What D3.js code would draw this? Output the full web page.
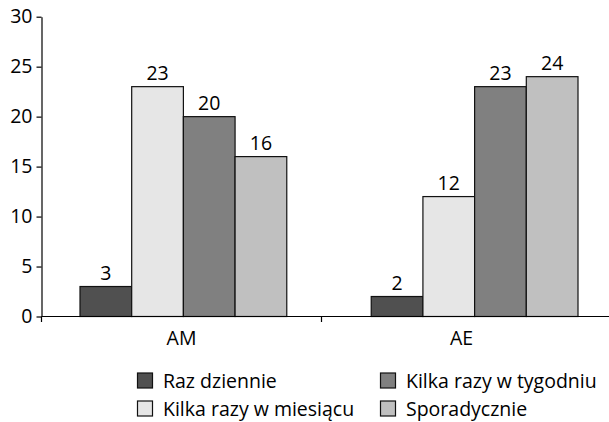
<!DOCTYPE html>
<html>
<head>
<meta charset="utf-8">
<script src="https://cdn.jsdelivr.net/npm/d3@7"></script>
<style>
  body { margin: 0; background: #fff; }
  svg { display: block; }
  text { font-family: "Open Sans", "Noto Sans", sans-serif; fill: #000; }
</style>
</head>
<body>
<svg id="chart" width="609" height="422"></svg>
<script>
const categories = ["AM", "AE"];
const seriesNames = ["Raz dziennie", "Kilka razy w miesiącu", "Kilka razy w tygodniu", "Sporadycznie"];
const seriesColors = ["#505050", "#e6e6e6", "#808080", "#c0c0c0"];
const valuesAM = [3, 23, 20, 16];
const valuesAE = [2, 12, 23, 24];
const yTicks = [0, 5, 10, 15, 20, 25, 30];
const legendOrder = ["Raz dziennie", "Kilka razy w tygodniu", "Kilka razy w miesiącu", "Sporadycznie"];

const data = categories.map((c, i) => ({
  cat: c,
  vals: (i === 0 ? valuesAM : valuesAE).map((v, j) => ({ s: seriesNames[j], v }))
}));

const svg = d3.select("#chart");
const fs = 19.5;

const y = d3.scaleLinear().domain([0, 30]).range([316.5, 16.7]);
const x0 = d3.scaleBand().domain(categories).range([41.5, 601.5]);
const xBar = d3.scaleBand().domain(categories).range([80, 578]).paddingInner(0.29).paddingOuter(0);
const x1 = d3.scaleBand().domain(seriesNames).range([0, xBar.bandwidth()]);
const color = d3.scaleOrdinal().domain(seriesNames).range(seriesColors);

// bars
const g = svg.append("g");
const groups = g.selectAll("g.grp").data(data).join("g")
  .attr("transform", d => `translate(${xBar(d.cat)},0)`);
groups.selectAll("rect").data(d => d.vals).join("rect")
  .attr("x", d => x1(d.s))
  .attr("y", d => y(d.v))
  .attr("width", x1.bandwidth())
  .attr("height", d => y(0) - y(d.v))
  .attr("fill", d => color(d.s))
  .attr("stroke", "#111")
  .attr("stroke-width", 1.2);
groups.selectAll("text").data(d => d.vals).join("text")
  .attr("x", d => x1(d.s) + x1.bandwidth() / 2)
  .attr("y", d => y(d.v) - 7)
  .attr("text-anchor", "middle")
  .style("font-size", fs + "px")
  .text(d => d.v);

// y axis
const yAxis = svg.append("g")
  .attr("transform", `translate(${x0.range()[0]},0)`)
  .call(d3.axisLeft(y).tickValues(yTicks).tickSize(5).tickSizeOuter(0).tickPadding(4));
yAxis.selectAll("text").style("font-size", fs + "px").style("font-family", "'Open Sans', sans-serif").attr("fill", "#000");
yAxis.selectAll("line, path").attr("stroke", "#000").attr("stroke-width", 1.2);

// x axis
const xAxis = svg.append("g")
  .attr("transform", `translate(0,${y(0)})`)
  .call(d3.axisBottom(x0).tickSize(0).tickPadding(15));
xAxis.select(".domain").remove();
xAxis.selectAll("text").style("font-size", fs + "px").style("font-family", "'Open Sans', sans-serif").attr("fill", "#000");
xAxis.append("line")
  .attr("x1", x0.range()[0]).attr("x2", 609)
  .attr("y1", 0).attr("y2", 0)
  .attr("stroke", "#000").attr("stroke-width", 1.2);
xAxis.selectAll("line.sep").data(categories).join("line")
  .attr("class", "sep")
  .attr("x1", d => x0(d)).attr("x2", d => x0(d))
  .attr("y1", 0).attr("y2", 5.5)
  .attr("stroke", "#000").attr("stroke-width", 1.2);

// legend
const legendX = [137.5, 380.5];
const legendY = [380.5, 408.5];
const leg = svg.append("g");
const items = leg.selectAll("g").data(legendOrder).join("g")
  .attr("transform", (d, i) => `translate(${legendX[i % 2]},${legendY[Math.floor(i / 2)]})`);
items.append("rect")
  .attr("x", 0).attr("y", -7.5)
  .attr("width", 15).attr("height", 15)
  .attr("fill", d => color(d))
  .attr("stroke", "#111").attr("stroke-width", 1.2);
items.append("text")
  .attr("x", 25.5).attr("y", 7.5)
  .style("font-size", fs + "px")
  .text(d => d);
</script>
</body>
</html>
